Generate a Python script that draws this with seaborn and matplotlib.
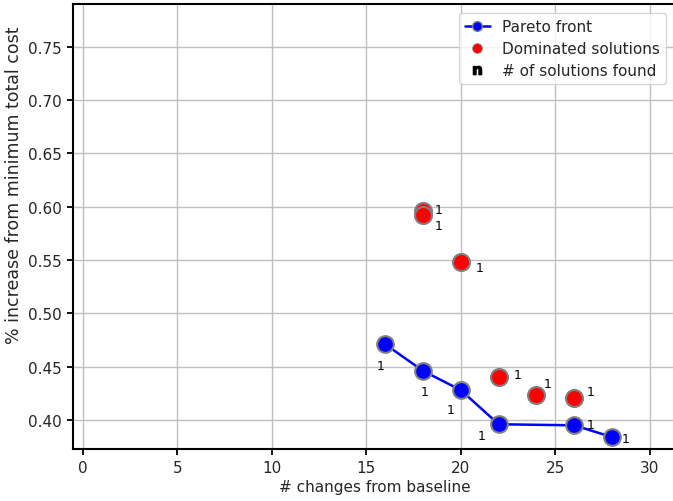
import matplotlib
matplotlib.use("Agg")
import matplotlib.pyplot as plt
import seaborn as sns
import pandas as pd
from matplotlib.lines import Line2D

sns.set_style("ticks", {"axes.grid": True, "grid.color": "#c0c0c0", "axes.edgecolor": "black"})
plt.rcParams['font.family'] = ['DejaVu Sans']

pareto_changes = [16, 18, 20, 22, 26, 28]
pareto_cost = [0.471, 0.446, 0.428, 0.396, 0.395, 0.384]
pareto_counts = [1, 1, 1, 1, 1, 1]

dom_changes = [18, 18, 20, 22, 24, 26]
dom_cost = [0.596, 0.592, 0.548, 0.440, 0.423, 0.421]
dom_counts = [1, 1, 1, 1, 1, 1]

# label offsets (pixels) for the count annotations
pareto_offsets = [(-5, -21), (2, -21), (-10, -19), (-17, -11), (16, 1), (14, -1)]
dom_offsets = [(16, 1), (16, -10), (19, -5), (19, 3), (11, 12), (16, 6)]

fig = plt.figure(figsize=(6.73, 5.02), dpi=100)
L, R, B, T = 73, 692, 450, 5
ax = fig.add_axes([L/673, (502-B)/502, (R-L)/673, (B-T)/502])

pareto_df = pd.DataFrame({"changes": pareto_changes, "cost": pareto_cost})
dom_df = pd.DataFrame({"changes": dom_changes, "cost": dom_cost})

sns.lineplot(data=pareto_df, x="changes", y="cost", ax=ax, color="blue", lw=1.8,
             marker="o", markersize=12, markerfacecolor="blue",
             markeredgecolor="gray", markeredgewidth=1.5, zorder=3)
sns.scatterplot(data=dom_df, x="changes", y="cost", ax=ax, color="red", s=150,
                edgecolor="gray", linewidth=1.5, zorder=3)

for x, y, n, (dx, dy) in zip(pareto_changes, pareto_cost, pareto_counts, pareto_offsets):
    ax.annotate(str(n), (x, y), xytext=(dx, dy), textcoords="offset pixels",
                ha="center", va="center", fontsize=9, color="black")
for x, y, n, (dx, dy) in zip(dom_changes, dom_cost, dom_counts, dom_offsets):
    ax.annotate(str(n), (x, y), xytext=(dx, dy), textcoords="offset pixels",
                ha="center", va="center", fontsize=9, color="black")

ax.set_xlim(-0.52, -0.52 + (R - L) / 18.9)
ax.set_ylim(0.3728, 0.790)
ax.set_xticks([0, 5, 10, 15, 20, 25, 30])
ax.set_yticks([0.40, 0.45, 0.50, 0.55, 0.60, 0.65, 0.70, 0.75])
ax.set_yticklabels([f"{v:.2f}" for v in [0.40, 0.45, 0.50, 0.55, 0.60, 0.65, 0.70, 0.75]])
ax.tick_params(axis="both", labelsize=11, length=4.5, width=1.3, color="black")
ax.set_xlabel("# changes from baseline", fontsize=11)
ax.xaxis.set_label_coords((375 - L) / (R - L), -(480 - B) / (B - T))
ax.set_ylabel("% increase from minimum total cost", fontsize=12.5)
ax.yaxis.set_label_coords((23 - L) / (R - L), (B - 185) / (B - T))
for s in ax.spines.values():
    s.set_linewidth(1.5)
    s.set_color("black")
ax.grid(True, color="#c0c0c0", lw=1)

handles = [
    Line2D([0], [0], color="blue", lw=1.8, marker="o", markersize=7,
           markerfacecolor="blue", markeredgecolor="gray", markeredgewidth=1),
    Line2D([0], [0], color="none", marker="o", markersize=7,
           markerfacecolor="red", markeredgecolor="gray", markeredgewidth=0.5),
    Line2D([0], [0], color="none", marker=r"$\mathbf{n}$", markersize=6,
           markerfacecolor="black", markeredgecolor="black"),
]
labels = ["Pareto front", "Dominated solutions", "# of solutions found"]
ax.legend(handles, labels, loc="upper right", bbox_to_anchor=((675-L)/(R-L), 1.0),
          fontsize=11, frameon=True, borderaxespad=0.6, handlelength=1.6,
          labelspacing=0.45)

fig.savefig("out.png", dpi=100)
